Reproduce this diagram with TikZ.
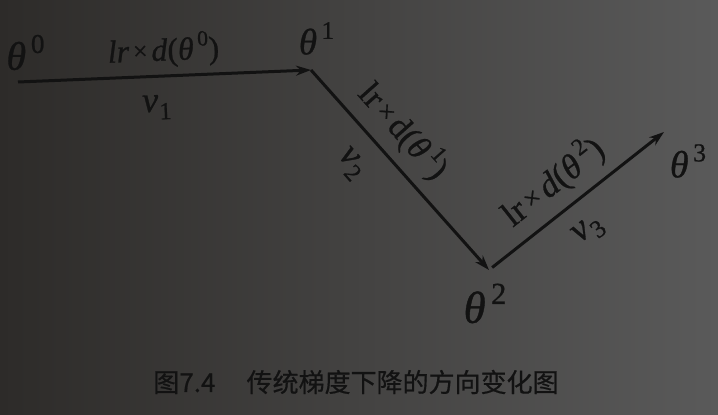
\documentclass[tikz,border=0pt]{standalone}
\usepackage{fontspec}
\setmainfont{Liberation Serif}[FakeBold=0.8]
\newfontfamily\cjk{Noto Sans CJK SC}[FakeBold=0.6]
\usetikzlibrary{arrows.meta}
\definecolor{bgl}{HTML}{2D2B29}
\definecolor{bgm}{HTML}{403E3D}
\definecolor{bgr}{HTML}{5A5A5A}
\definecolor{ink}{HTML}{121212}
\newcommand\thsup[1]{\textit{θ}\kern0.12em\raisebox{0.42em}{\scalebox{0.68}{#1}}}
\newcommand\vsub[1]{\textit{v}\kern0.02em\raisebox{-0.22em}{\scalebox{0.68}{#1}}}
\newcommand\tms{\kern0.12em\raisebox{0.06em}{\scalebox{0.8}{×}}\kern0.12em}
\begin{document}
\begin{tikzpicture}[x=1pt,y=-1pt,
  vec/.style={line width=3pt, draw=ink, -{Stealth[length=15pt,width=10pt]}},
  ptlabel/.style={text=ink, inner sep=0pt},
  steplabel/.style={text=ink, sloped, inner sep=0pt},
  vlabel/.style={text=ink, sloped, inner sep=0pt},
  caption/.style={text=ink, font=\fontsize{26}{26}\selectfont\cjk, inner sep=0pt}
]
\useasboundingbox (0,0) rectangle (718,415);
\shade[left color=bgl, middle color=bgm, right color=bgr] (0,0) rectangle (718,415);

\coordinate (p0) at (18,82);
\coordinate (p1) at (311,70);
\coordinate (p2) at (489,270);
\coordinate (p3) at (664,132);

\node[ptlabel, font=\fontsize{40}{40}\selectfont] (t0) at (25.5,52.5) {\thsup{0}};
\node[ptlabel, font=\fontsize{37}{37}\selectfont] (t1) at (316.5,38.5) {\thsup{1}};
\node[ptlabel, font=\fontsize{45}{45}\selectfont] (t2) at (485,303.5) {\thsup{2}};
\node[ptlabel, font=\fontsize{38}{38}\selectfont] (t3) at (688,161) {\thsup{3}};

\draw[vec] (p0) -- (p1)
  node[steplabel, font=\fontsize{32}{32}\selectfont, pos=0.5, above=26pt, anchor=center] (s1) {\textit{lr}\tms\textit{d}(\thsup{0})}
  node[vlabel, font=\fontsize{36}{36}\selectfont, pos=0.47, below=31pt, anchor=center] (v1) {\vsub{1}};
\draw[vec] (p1) -- (p2)
  node[steplabel, font=\fontsize{34}{34}\selectfont, pos=0.40, above=29pt, anchor=center] (s2) {lr\tms d(\thsup{1})}
  node[vlabel, font=\fontsize{36}{36}\selectfont, pos=0.36, below=33pt, anchor=center] (v2) {\vsub{2}};
\draw[vec, shorten <=4pt] (p2) -- (p3)
  node[steplabel, font=\fontsize{35}{35}\selectfont, pos=0.47, above=30pt, anchor=center] (s3) {lr\tms\textit{d}(\thsup{2})}
  node[vlabel, font=\fontsize{37}{37}\selectfont, pos=0.46, below=31pt, anchor=center] (v3) {\vsub{3}};

\node[caption] (cap) at (356,382) {图7.4\hspace{1.2em}传统梯度下降的方向变化图};
\end{tikzpicture}
\end{document}
